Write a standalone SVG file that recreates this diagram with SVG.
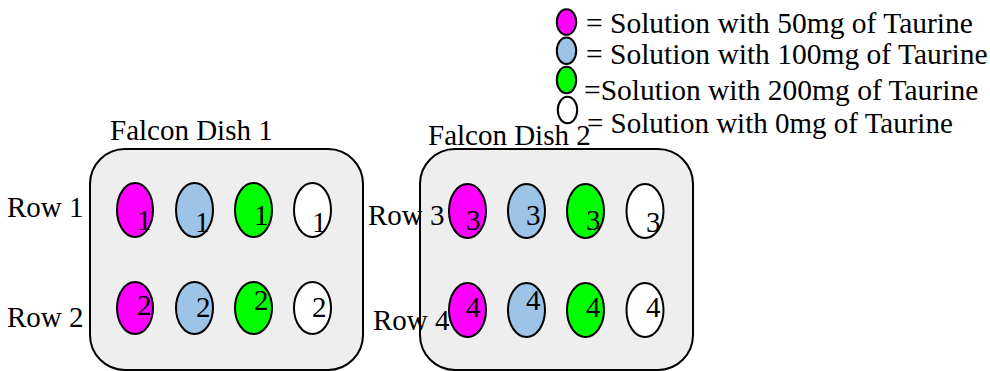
<svg xmlns="http://www.w3.org/2000/svg" width="990" height="371" viewBox="0 0 990 371" font-family="'Liberation Serif', serif" font-size="29">
  <style>
    text { fill: #000; }
    .dish { fill: #eeeeee; stroke: #000; stroke-width: 2; }
    .well { stroke: #000; stroke-width: 2; }
    .mg50 { fill: #ff00ff; }
    .mg100 { fill: #9dc3e6; }
    .mg200 { fill: #00ff00; }
    .mg0 { fill: #ffffff; }
    .key { font-size: 29.5px; }
  </style>
  <rect width="990" height="371" fill="#ffffff"/>

  <!-- Dish 1 -->
  <g id="dish1">
    <rect class="dish" x="90" y="149" width="273" height="221" rx="35" ry="35"/>
    <text x="110" y="140">Falcon Dish 1</text>
  </g>
  <!-- Dish 2 -->
  <g id="dish2">
    <rect class="dish" x="420" y="149" width="273" height="221" rx="35" ry="35"/>
    <text x="428" y="145">Falcon Dish 2</text>
  </g>

  <!-- Row labels -->
  <g id="row-labels">
    <text x="7" y="217">Row 1</text>
    <text x="7" y="327">Row 2</text>
    <text x="368" y="225">Row 3</text>
    <text x="373" y="330">Row 4</text>
  </g>

  <!-- Dish 1 wells -->
  <g id="dish1-row1">
    <ellipse class="well mg50" cx="135" cy="210" rx="18" ry="27"/>
    <ellipse class="well mg100" cx="194.5" cy="210" rx="18.5" ry="27"/>
    <ellipse class="well mg200" cx="253.5" cy="210" rx="18.5" ry="27"/>
    <ellipse class="well mg0" cx="312.5" cy="210" rx="18.5" ry="27"/>
    <text x="137" y="230">1</text>
    <text x="195" y="232">1</text>
    <text x="254" y="225">1</text>
    <text x="312" y="232">1</text>
  </g>
  <g id="dish1-row2">
    <ellipse class="well mg50" cx="135" cy="308" rx="18" ry="26"/>
    <ellipse class="well mg100" cx="194.5" cy="308" rx="18.5" ry="26"/>
    <ellipse class="well mg200" cx="253.5" cy="308" rx="18.5" ry="26"/>
    <ellipse class="well mg0" cx="312.5" cy="308" rx="18.5" ry="26"/>
    <text x="137" y="315">2</text>
    <text x="196" y="317">2</text>
    <text x="254" y="310">2</text>
    <text x="312" y="317">2</text>
  </g>

  <!-- Dish 2 wells -->
  <g id="dish2-row3">
    <ellipse class="well mg50" cx="467.5" cy="211" rx="18.5" ry="27"/>
    <ellipse class="well mg100" cx="526.5" cy="211" rx="18.5" ry="27"/>
    <ellipse class="well mg200" cx="585.5" cy="211" rx="18.5" ry="27"/>
    <ellipse class="well mg0" cx="645" cy="211" rx="18.5" ry="27"/>
    <text x="466" y="230">3</text>
    <text x="526" y="225">3</text>
    <text x="586" y="230">3</text>
    <text x="646" y="232">3</text>
  </g>
  <g id="dish2-row4">
    <ellipse class="well mg50" cx="467.5" cy="310" rx="18.5" ry="27"/>
    <ellipse class="well mg100" cx="526.5" cy="310" rx="18.5" ry="27"/>
    <ellipse class="well mg200" cx="585.5" cy="310" rx="18.5" ry="27"/>
    <ellipse class="well mg0" cx="645" cy="310" rx="18.5" ry="27"/>
    <text x="466" y="317">4</text>
    <text x="526" y="310">4</text>
    <text x="586" y="317">4</text>
    <text x="646" y="317">4</text>
  </g>

  <!-- Legend -->
  <g id="legend">
    <ellipse class="well mg50" cx="566.5" cy="22" rx="9.7" ry="12.8"/>
    <ellipse class="well mg100" cx="566.5" cy="50.7" rx="9.7" ry="13.3"/>
    <ellipse class="well mg200" cx="566.5" cy="80" rx="9.7" ry="13.3"/>
    <ellipse class="well mg0" cx="567.5" cy="110" rx="9.7" ry="13.3"/>
    <text class="key" x="586" y="33">= Solution with 50mg of Taurine</text>
    <text class="key" x="586" y="64">= Solution with 100mg of Taurine</text>
    <text class="key" x="584" y="100">=Solution with 200mg of Taurine</text>
    <text x="587" y="133">= Solution with 0mg of Taurine</text>
  </g>
</svg>
